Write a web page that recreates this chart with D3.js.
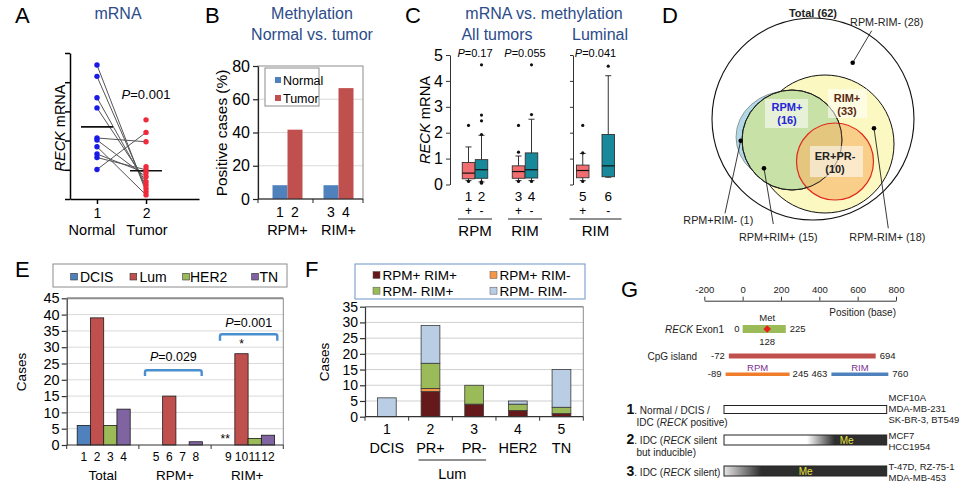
<!DOCTYPE html>
<html><head><meta charset="utf-8">
<script src="https://cdn.jsdelivr.net/npm/d3@7/dist/d3.min.js"></script>
<style>
body{margin:0;background:#fff;}
svg{display:block;font-family:"Liberation Sans",Arial,sans-serif;}
</style></head><body>
<svg id="c" width="968" height="490"></svg>
<script>
// ---------------- DATA ----------------
// A
const aTicks = [0,1,2,3,4,5];
const aXTicks = [1,2];
const aXLabels = ["Normal","Tumor"];
const aNormal = [4.59,4.20,3.47,3.12,2.09,2.02,1.79,1.54,1.42,1.01];
const aTumor  = [0.25,0.36,0.48,0.59,1.96,0.76,0.14,0.89,1.00,2.28,2.71,1.11]; // first 10 paired with aNormal
const aMeans  = [2.47,0.97];
const aP = "=0.001";
// B
const bGroups = ["RPM+","RIM+"];
const bSeries = ["Normal","Tumor"];
const bNormal = [8.3,8.3];
const bTumor  = [41.7,66.7];
const bTicks  = [0,20,40,60,80];
// C
const cIds   = ["1","2","3","4","5","6"];
const cSigns = ["+","-","+","-","+","-"];
const cGroupLabels = ["RPM","RIM","RIM"];
const cP     = ["=0.17","=0.055","=0.041"];
const cQ1    = [0.22,0.24,0.24,0.25,0.26,0.30];
const cMed   = [0.44,0.57,0.50,0.57,0.54,0.72];
const cQ3    = [0.85,0.96,0.72,1.22,0.75,1.93];
const cLow   = [0.15,0.10,0.15,0.15,0.15,0.28];
const cHigh  = [1.45,1.90,1.10,2.52,1.20,4.20];
const cOut   = [[2.28,0.12],[4.62,2.68,2.46,1.93,0.10,0.05],[2.28,1.25,0.12],[4.62,2.70,0.12],[2.28,1.22,0.12],[4.57]];
const cTicks = [0,1,2,3,4,5];
// D
const dSets   = ["Total (62)","RPM+","(16)","RIM+","(33)","ER+PR-","(10)"];
const dRegions = ["RPM-RIM- (28)","RPM+RIM- (1)","RPM+RIM+ (15)","RPM-RIM+ (18)"];
// E
const eGroups = ["Total","RPM+","RIM+"];
const eSeries = ["DCIS","Lum","HER2","TN"];
const eDCIS = [6,0,0];
const eLum  = [39,15,28];
const eHER2 = [6,0,2];
const eTN   = [11,1,3];
const eTicks = [0,5,10,15,20,25,30,35,40,45];
// F
const fCats   = ["DCIS","PR+","PR-","HER2","TN"];
const fSeries = ["RPM+ RIM+","RPM+ RIM-","RPM- RIM+","RPM- RIM-"];
const fPP = [0,8,4,2,1];
const fPM = [0,1,0,0,0];
const fMP = [0,8,6,2,2];
const fMM = [6,12,0,1,12];
const fTicks = [0,5,10,15,20,25,30,35];
// G
const gTicks = [-200,0,200,400,600,800];
const gExon = [0,225];
const gMet = 128;
const gCpG = [-72,694];
const gRPM = [-89,245];
const gRIM = [463,760];
const gRows = [["Normal / DCIS /","IDC (","RECK"," positive)"],["IDC (","RECK"," silent","but inducible)"],["IDC (","RECK"," silent)"]];
const gCells = [["MCF10A","MDA-MB-231","SK-BR-3, BT549"],["MCF7","HCC1954"],["T-47D, RZ-75-1","MDA-MB-453"]];

// ---------------- DRAW ----------------
const svg = d3.select("#c");
const TITLE = "#2c4b8a";
const F = '"Liberation Sans", Arial, sans-serif';
const defs = svg.append("defs");
const fmtInt = d3.format("d");

function txt(g,x,y,s,size,anchor,opts){
  const t = g.append("text").attr("x",x).attr("y",y).attr("font-size",size)
    .attr("text-anchor",anchor||"start").text(s);
  if(opts){ for(const k in opts) t.attr(k,opts[k]); }
  return t;
}
function styleAxis(sel,size,col,sw){
  sel.attr("font-family",F).attr("font-size",size);
  sel.selectAll("path,line").attr("stroke",col||"#000").attr("stroke-width",sw||1);
  sel.selectAll("text").attr("fill","#000");
}
// panel letters
[["A",15,23],["B",205,23],["C",405,23],["D",662,23],["E",15,277],["F",305,277],["G",621,297]]
  .forEach(d=>txt(svg,d[1],d[2],d[0],22));

// ===== A =====
{
  const g = svg.append("g");
  txt(g,118,19,"mRNA",16,"middle",{fill:TITLE});
  const x = d3.scaleLinear().domain([0.45,3.08]).range([70,199]);
  const y = d3.scaleLinear().domain([0,5]).range([199,53]);
  const ya = g.append("g").attr("transform","translate(70,0)")
    .call(d3.axisLeft(y).tickValues(aTicks).tickSize(5).tickSizeOuter(0).tickFormat(""));
  styleAxis(ya,14,"#000",1.5);
  const xa = g.append("g").attr("transform","translate(0,199)")
    .call(d3.axisBottom(x).tickValues(aXTicks).tickSize(5).tickSizeOuter(0).tickPadding(4).tickFormat(fmtInt));
  styleAxis(xa,14,"#000",1.5);
  txt(g,x(1)-5,235,aXLabels[0],14.5,"middle");
  txt(g,x(2)+1,235,aXLabels[1],14.5,"middle");
  const yl = g.append("text").attr("transform","translate(65,128) rotate(-90)").attr("font-size",14.5).attr("text-anchor","middle");
  yl.append("tspan").attr("font-style","italic").text("RECK");
  yl.append("tspan").text(" mRNA");
  aNormal.forEach((v,i)=>{
    g.append("line").attr("x1",x(1)).attr("y1",y(v)).attr("x2",x(2)).attr("y2",y(aTumor[i]))
      .attr("stroke","#555").attr("stroke-width",1);
  });
  [1,2].forEach((k,i)=>{
    g.append("line").attr("x1",x(k)-16).attr("x2",x(k)+16).attr("y1",y(aMeans[i])).attr("y2",y(aMeans[i]))
      .attr("stroke","#111").attr("stroke-width",1.6);
  });
  g.selectAll("circle.n").data(aNormal).enter().append("circle").attr("cx",x(1)).attr("cy",d=>y(d)).attr("r",2.7).attr("fill","#1a1ae6");
  g.selectAll("circle.t").data(aTumor).enter().append("circle").attr("cx",x(2)).attr("cy",d=>y(d)).attr("r",2.7).attr("fill","#ee2b3b");
  const p = g.append("text").attr("x",146).attr("y",99).attr("font-size",13).attr("text-anchor","middle");
  p.append("tspan").attr("font-style","italic").text("P"); p.append("tspan").text(aP);
}

// ===== B =====
{
  const g = svg.append("g");
  txt(g,312,19,"Methylation",16,"middle",{fill:TITLE});
  txt(g,312,40,"Normal vs. tumor",16,"middle",{fill:TITLE});
  const L=258,R=363,T=66,Bt=199;
  const y = d3.scaleLinear().domain([0,80]).range([Bt,T]);
  const x = d3.scaleBand().domain(bGroups).range([262,364]);
  bTicks.filter(t=>t>0&&t<80).forEach(t=>g.append("line").attr("x1",L).attr("x2",R).attr("y1",y(t)).attr("y2",y(t)).attr("stroke","#d9d9d9"));
  g.append("rect").attr("x",L).attr("y",T).attr("width",R-L).attr("height",Bt-T).attr("fill","none").attr("stroke","#8c8c8c");
  const bw = 15;
  bGroups.forEach((k,i)=>{
    const c = x(k)+x.bandwidth()/2;
    g.append("rect").attr("x",c-bw).attr("y",y(bNormal[i])).attr("width",bw).attr("height",Bt-y(bNormal[i])).attr("fill","#4f81bd");
    g.append("rect").attr("x",c).attr("y",y(bTumor[i])).attr("width",bw).attr("height",Bt-y(bTumor[i])).attr("fill","#c0504d");
    txt(g,c-7.5,217,String(i*2+1),14,"middle");
    txt(g,c+7.5,217,String(i*2+2),14,"middle");
    txt(g,c,235,k,14.5,"middle");
  });
  const ya = g.append("g").attr("transform",`translate(${L},0)`)
    .call(d3.axisLeft(y).tickValues(bTicks).tickSize(5).tickSizeOuter(0).tickPadding(3).tickFormat(fmtInt));
  styleAxis(ya,16,"#222",1.2);
  g.append("line").attr("x1",L).attr("x2",R).attr("y1",Bt).attr("y2",Bt).attr("stroke","#222").attr("stroke-width",1.2);
  [L, x(bGroups[1]), R].forEach(px=>g.append("line").attr("x1",px).attr("x2",px).attr("y1",Bt).attr("y2",Bt+4).attr("stroke","#222"));
  g.append("text").attr("transform",`translate(227,133) rotate(-90)`).attr("font-size",15.4).attr("text-anchor","middle").text("Positive cases (%)");
  g.append("rect").attr("x",265).attr("y",68).attr("width",54).attr("height",38).attr("fill","#fff").attr("stroke","#8c8c8c");
  [["#4f81bd",80],["#c0504d",98]].forEach((d,i)=>{
    g.append("rect").attr("x",275).attr("y",d[1]-3).attr("width",6).attr("height",6).attr("fill",d[0]);
    txt(g,283,d[1]+4.5,bSeries[i],12.5);
  });
}

// ===== C =====
{
  const g = svg.append("g");
  txt(g,544,19,"mRNA vs. methylation",16,"middle",{fill:TITLE});
  txt(g,497,40,"All tumors",16,"middle",{fill:TITLE});
  txt(g,600,40,"Luminal",16,"middle",{fill:TITLE});
  const y = d3.scaleLinear().domain([0,5]).range([184.5,55]);
  const xAll = d3.scaleBand().domain(["RPM","RIM"]).range([450,550]);
  const xLum = d3.scaleBand().domain(["5","6"]).range([570,621]);
  const cx = i => i<4 ? xAll(i<2?"RPM":"RIM")+xAll.bandwidth()/2+(i%2? 6.5:-6.5) : xLum(cIds[i])+xLum.bandwidth()/2;
  const ya = g.append("g").attr("transform","translate(450,0)")
    .call(d3.axisLeft(y).tickValues(cTicks).tickSize(4).tickSizeOuter(0).tickPadding(3).tickFormat(fmtInt));
  styleAxis(ya,16,"#333",1);
  const ya2 = g.append("g").attr("transform","translate(573,0)")
    .call(d3.axisLeft(y).tickValues(cTicks).tickSize(3).tickSizeOuter(0).tickFormat(""));
  styleAxis(ya2,16,"#333",1);
  const yl = g.append("text").attr("transform","translate(430,120) rotate(-90)").attr("font-size",14.7).attr("text-anchor","middle");
  yl.append("tspan").attr("font-style","italic").text("RECK");
  yl.append("tspan").text(" mRNA");
  const bw = 12.5;
  cIds.forEach((id,i)=>{
    const c = cx(i);
    const fill = i%2===0 ? "#f26d6f" : "#17899b";
    g.append("line").attr("x1",c).attr("x2",c).attr("y1",y(cLow[i])).attr("y2",y(cHigh[i])).attr("stroke","#333");
    [cLow[i],cHigh[i]].forEach(v=>g.append("line").attr("x1",c-3).attr("x2",c+3).attr("y1",y(v)).attr("y2",y(v)).attr("stroke","#333"));
    g.append("rect").attr("x",c-bw/2).attr("y",y(cQ3[i])).attr("width",bw).attr("height",y(cQ1[i])-y(cQ3[i]))
      .attr("fill",fill).attr("stroke","#333").attr("stroke-width",0.9);
    g.append("line").attr("x1",c-bw/2).attr("x2",c+bw/2).attr("y1",y(cMed[i])).attr("y2",y(cMed[i])).attr("stroke","#111").attr("stroke-width",1.2);
    cOut[i].forEach(v=>g.append("circle").attr("cx",c).attr("cy",y(v)).attr("r",1.6).attr("fill","#111"));
    txt(g,c,200.5,id,13.5,"middle");
    txt(g,c,215,cSigns[i],12,"middle");
  });
  const groups = [[cx(0),cx(1)],[cx(2),cx(3)],[cx(4),cx(5)]];
  groups.forEach((gg,k)=>{
    const mid = (gg[0]+gg[1])/2;
    const p = g.append("text").attr("x",mid).attr("y",56.5).attr("font-size",11).attr("text-anchor","middle");
    p.append("tspan").attr("font-style","italic").text("P"); p.append("tspan").text(cP[k]);
    const half = k<2 ? 17 : 26;
    g.append("line").attr("x1",mid-half).attr("x2",mid+half).attr("y1",219).attr("y2",219).attr("stroke","#222");
    txt(g,mid,235.5,cGroupLabels[k],15,"middle");
  });
}

// ===== D =====
{
  const g = svg.append("g").attr("font-size",10.8);
  g.append("circle").attr("cx",813).attr("cy",119).attr("r",101).attr("fill","#fff").attr("stroke","#111").attr("stroke-width",1.1);
  g.append("ellipse").attr("cx",788).attr("cy",137).attr("rx",52).attr("ry",46).attr("fill","#b3d8e5").attr("stroke","#666").attr("stroke-width",0.6);
  g.append("circle").attr("cx",825).attr("cy",144).attr("r",69).attr("fill","#fcf8c1").attr("stroke","#111").attr("stroke-width",1);
  g.append("circle").attr("cx",792).attr("cy",140).attr("r",50).attr("fill","#c8e1a6").attr("stroke","#111").attr("stroke-width",1);
  g.append("circle").attr("cx",835).attr("cy",161.5).attr("r",38.5).attr("fill","#f7b468").attr("fill-opacity",0.62).attr("stroke","#e0281b").attr("stroke-width",1.2);
  g.append("circle").attr("cx",792).attr("cy",140).attr("r",50).attr("fill","none").attr("stroke","#222").attr("stroke-width",0.9);
  [[765,99,43,29],[828,89,39,29],[810,146,53,31]].forEach(b=>g.append("rect").attr("x",b[0]).attr("y",b[1]).attr("width",b[2]).attr("height",b[3]).attr("fill","#fff").attr("fill-opacity",0.55));
  txt(g,813,17,dSets[0],11,"middle",{"font-weight":"bold",fill:"#222"});
  txt(g,787,111,dSets[1],11,"middle",{"font-weight":"bold",fill:"#2424d8"});
  txt(g,787,123.5,dSets[2],11,"middle",{"font-weight":"bold",fill:"#2424d8"});
  txt(g,847,101.5,dSets[3],11,"middle",{"font-weight":"bold",fill:"#5a2a14"});
  txt(g,847,115,dSets[4],11,"middle",{"font-weight":"bold",fill:"#5a2a14"});
  txt(g,835,160,dSets[5],11,"middle",{"font-weight":"bold",fill:"#222"});
  txt(g,835,172.5,dSets[6],11,"middle",{"font-weight":"bold",fill:"#222"});
  const calls = [
    [852.7,62.7,871.7,30.7,886.7,26],
    [740.7,140.7,725,213.3,718.3,224],
    [764,168.3,773.3,224,778.3,241],
    [874,128.3,888.3,228.3,887.3,241]
  ];
  calls.forEach((c,i)=>{
    g.append("line").attr("x1",c[0]).attr("y1",c[1]).attr("x2",c[2]).attr("y2",c[3]).attr("stroke","#222").attr("stroke-width",0.9);
    g.append("circle").attr("cx",c[0]).attr("cy",c[1]).attr("r",2.3).attr("fill","#000");
    txt(g,c[4],c[5],dRegions[i],10.8,"middle",{fill:"#222"});
  });
}

// ===== E =====
{
  const g = svg.append("g");
  const L=66.7,R=283.3,T=298.3,Bt=445;
  const y = d3.scaleLinear().domain([0,45]).range([Bt,T]);
  const x = d3.scaleBand().domain(eGroups).range([L,R]);
  const xi = d3.scaleBand().domain(eSeries).range([10.5,63.5]);
  const cols = ["#4f81bd","#c0504d","#9bbb59","#8064a2"];
  const vals = [eDCIS,eLum,eHER2,eTN];
  eTicks.filter(t=>t>0&&t<45).forEach(t=>g.append("line").attr("x1",L).attr("x2",R).attr("y1",y(t)).attr("y2",y(t)).attr("stroke","#d9d9d9"));
  g.append("line").attr("x1",R).attr("x2",R).attr("y1",T).attr("y2",Bt).attr("stroke","#8c8c8c");
  g.append("line").attr("x1",L).attr("x2",R).attr("y1",T).attr("y2",T).attr("stroke","#8c8c8c").attr("stroke-width",2);
  eGroups.forEach((grp,gi)=>{
    eSeries.forEach((s,si)=>{
      const v = vals[si][gi];
      const bx = x(grp)+xi(s);
      if(v>0) g.append("rect").attr("x",bx).attr("y",y(v)).attr("width",xi.bandwidth()).attr("height",Bt-y(v))
        .attr("fill",cols[si]).attr("stroke","#1a1a1a").attr("stroke-width",0.8);
      txt(g,bx+xi.bandwidth()/2,460.5,String(gi*4+si+1),12,"middle");
    });
    txt(g,x(grp)+x.bandwidth()/2,479.5,grp,13.5,"middle");
  });
  const ya = g.append("g").attr("transform",`translate(${L},0)`)
    .call(d3.axisLeft(y).tickValues(eTicks).tickSize(5).tickSizeOuter(0).tickPadding(2).tickFormat(fmtInt));
  styleAxis(ya,14.5,"#333",1.2);
  g.append("line").attr("x1",L).attr("x2",R).attr("y1",Bt).attr("y2",Bt).attr("stroke","#333").attr("stroke-width",1.2);
  [L,x(eGroups[1]),x(eGroups[2]),R].forEach(px=>g.append("line").attr("x1",px).attr("x2",px).attr("y1",Bt).attr("y2",Bt+4).attr("stroke","#333"));
  g.append("text").attr("transform","translate(26,372) rotate(-90)").attr("font-size",13.5).attr("text-anchor","middle").text("Cases");
  g.append("rect").attr("x",53).attr("y",264).attr("width",234).attr("height",23).attr("fill","#fff").attr("stroke","#8c8c8c");
  const lx = [[70.7,80],[130,139.5],[182.7,190],[251.7,259.5]];
  eSeries.forEach((s,i)=>{
    g.append("rect").attr("x",lx[i][0]).attr("y",273.3).attr("width",6.7).attr("height",6.7).attr("fill",cols[i]).attr("stroke","#333").attr("stroke-width",0.6);
    txt(g,lx[i][1],281.5,s,14);
  });
  const br = (x1,x2,yt,yb,label,ty)=>{
    g.append("path").attr("d",`M${x1},${yb} L${x1},${yt+2} Q${x1},${yt} ${x1+2},${yt} L${x2-2},${yt} Q${x2},${yt} ${x2},${yt+2} L${x2},${yb}`)
      .attr("fill","none").attr("stroke","#4a8fd0").attr("stroke-width",2.4);
    const p = g.append("text").attr("x",(x1+x2)/2).attr("y",ty).attr("font-size",12.5).attr("text-anchor","middle");
    p.append("tspan").attr("font-style","italic").text("P"); p.append("tspan").text(label);
  };
  br(145,201.7,370.3,376,"=0.029",361);
  br(220,277.3,334.3,340.7,"=0.001",327);
  const cLum = x(eGroups[2])+xi("Lum")+xi.bandwidth()/2;
  txt(g,cLum,348,"*",12,"middle");
  const cD = x(eGroups[2])+xi("DCIS")+xi.bandwidth()/2;
  txt(g,cD-3,443,"**",12,"middle");
}

// ===== F =====
{
  const g = svg.append("g");
  const L=365,R=583.3,T=306.7,Bt=416.7;
  const y = d3.scaleLinear().domain([0,35]).range([Bt,T]);
  const x = d3.scaleBand().domain(fCats).range([L,R]).paddingInner(0.57).paddingOuter(0.285);
  const cols = ["#66191b","#f79646","#9bbb59","#b9cde5"];
  const vals = [fPP,fPM,fMP,fMM];
  fTicks.filter(t=>t>0&&t<35).forEach(t=>g.append("line").attr("x1",L).attr("x2",R).attr("y1",y(t)).attr("y2",y(t)).attr("stroke","#d0d0d0"));
  g.append("line").attr("x1",R).attr("x2",R).attr("y1",T).attr("y2",Bt).attr("stroke","#8c8c8c");
  g.append("line").attr("x1",L).attr("x2",R).attr("y1",T).attr("y2",T).attr("stroke","#8c8c8c").attr("stroke-width",1.5);
  const stack = d3.stack().keys([0,1,2,3]).value((d,k)=>vals[k][d])(fCats.map((c,i)=>i));
  stack.forEach((layer,k)=>{
    layer.forEach((seg,i)=>{
      if(seg[1]-seg[0]<=0) return;
      g.append("rect").attr("x",x(fCats[i])).attr("y",y(seg[1])).attr("width",x.bandwidth()).attr("height",y(seg[0])-y(seg[1]))
        .attr("fill",cols[k]).attr("stroke","#3a3a3a").attr("stroke-width",0.8);
    });
  });
  const ya = g.append("g").attr("transform",`translate(${L},0)`)
    .call(d3.axisLeft(y).tickValues(fTicks).tickSize(5).tickSizeOuter(0).tickPadding(2).tickFormat(fmtInt));
  styleAxis(ya,14,"#333",1.2);
  g.append("line").attr("x1",L).attr("x2",R).attr("y1",Bt).attr("y2",Bt).attr("stroke","#333").attr("stroke-width",1.2);
  fCats.forEach((c,i)=>{
    const cx = x(c)+x.bandwidth()/2;
    txt(g,cx,433.5,String(i+1),14,"middle");
    txt(g,cx,453,c,14.5,"middle");
  });
  d3.range(fCats.length+1).forEach(i=>{
    const px = L + i*(R-L)/fCats.length;
    g.append("line").attr("x1",px).attr("x2",px).attr("y1",Bt).attr("y2",Bt+4).attr("stroke","#333");
  });
  const c1 = x(fCats[1])+x.bandwidth()/2, c2 = x(fCats[2])+x.bandwidth()/2;
  g.append("line").attr("x1",c1-12).attr("x2",c2+12).attr("y1",460).attr("y2",460).attr("stroke","#222");
  txt(g,(c1+c2)/2,478.5,"Lum",14.5,"middle");
  g.append("text").attr("transform","translate(329,362) rotate(-90)").attr("font-size",13.5).attr("text-anchor","middle").text("Cases");
  g.append("rect").attr("x",355).attr("y",264).attr("width",230).attr("height",35).attr("fill","#fff").attr("stroke","#6d93c6");
  const lp = [[373,275],[490,275],[373,290.7],[490,290.7]];
  fSeries.forEach((s,i)=>{
    g.append("rect").attr("x",lp[i][0]).attr("y",lp[i][1]-3.5).attr("width",7).attr("height",7).attr("fill",cols[i]).attr("stroke","#555").attr("stroke-width",0.5);
    txt(g,lp[i][0]+9.5,lp[i][1]+5,s,13.5);
  });
}

// ===== G =====
{
  const g = svg.append("g");
  const x = d3.scaleLinear().domain([-200,800]).range([704.3,896]);
  const ax = g.append("g").attr("transform","translate(0,300.7)")
    .call(d3.axisTop(x).tickValues(gTicks).tickSize(4).tickSizeOuter(0).tickPadding(4).tickFormat(d=>String(d)));
  styleAxis(ax,9.5,"#333",1);
  ax.selectAll("text").attr("fill","#222");
  txt(g,896,316,"Position (base)",10,"end",{fill:"#222"});
  txt(g,x(gMet),320.5,"Met",9.5,"middle",{fill:"#222"});
  const ex = g.append("text").attr("x",724).attr("y",332.5).attr("font-size",10).attr("text-anchor","end").attr("fill","#222");
  ex.append("tspan").attr("font-style","italic").text("RECK"); ex.append("tspan").text(" Exon1");
  g.append("rect").attr("x",x(gExon[0])).attr("y",325).attr("width",x(gExon[1])-x(gExon[0])).attr("height",8).attr("fill","#9bbb59");
  const dm = x(gMet);
  g.append("path").attr("d",`M${dm},${325.3} L${dm+3.8},${329} L${dm},${332.7} L${dm-3.8},${329} Z`).attr("fill","#e8201c");
  txt(g,x(gExon[0])-3,332,String(gExon[0]),9.5,"end",{fill:"#222"});
  txt(g,x(gExon[1])+4,332,String(gExon[1]),9.5,"start",{fill:"#222"});
  txt(g,x(gMet),344.5,String(gMet),9.5,"middle",{fill:"#222"});
  txt(g,697,359.5,"CpG island",10,"end",{fill:"#222"});
  g.append("rect").attr("x",x(gCpG[0])).attr("y",353.5).attr("width",x(gCpG[1])-x(gCpG[0])).attr("height",5).attr("fill","#c0504d");
  txt(g,x(gCpG[0])-4,359,String(gCpG[0]),9.5,"end",{fill:"#222"});
  txt(g,x(gCpG[1])+4,359,String(gCpG[1]),9.5,"start",{fill:"#222"});
  g.append("rect").attr("x",x(gRPM[0])).attr("y",372.5).attr("width",x(gRPM[1])-x(gRPM[0])).attr("height",3.5).attr("fill","#f07d2c");
  g.append("rect").attr("x",x(gRIM[0])).attr("y",372.5).attr("width",x(gRIM[1])-x(gRIM[0])).attr("height",3.5).attr("fill","#4f81bd");
  txt(g,x(gRPM[0])-4,377,String(gRPM[0]),9.5,"end",{fill:"#222"});
  txt(g,x(gRPM[1])+3,377,String(gRPM[1]),9.5,"start",{fill:"#222"});
  txt(g,x(gRIM[0])-4,377,String(gRIM[0]),9.5,"end",{fill:"#222"});
  txt(g,x(gRIM[1])+4,377,String(gRIM[1]),9.5,"start",{fill:"#222"});
  txt(g,(x(gRPM[0])+x(gRPM[1]))/2,370.5,"RPM",9.5,"middle",{fill:"#7b2f8e"});
  txt(g,(x(gRIM[0])+x(gRIM[1]))/2,370.5,"RIM",9.5,"middle",{fill:"#7b2f8e"});
  const g2 = defs.append("linearGradient").attr("id","gr2");
  [[0,"#fff"],[0.51,"#fff"],[0.68,"#2e2e2e"],[1,"#2e2e2e"]].forEach(s=>g2.append("stop").attr("offset",s[0]).attr("stop-color",s[1]));
  const g3 = defs.append("linearGradient").attr("id","gr3");
  [[0,"#e6e6e6"],[0.23,"#2e2e2e"],[1,"#2e2e2e"]].forEach(s=>g3.append("stop").attr("offset",s[0]).attr("stop-color",s[1]));
  const bx0 = 724, bx1 = 886.7;
  const rows = [[405.5,8,"#fff",null],[435,10,"url(#gr2)",846.7],[466,10,"url(#gr3)",805.7]];
  rows.forEach((r,i)=>{
    g.append("rect").attr("x",bx0).attr("y",r[0]).attr("width",bx1-bx0).attr("height",r[1]).attr("fill",r[2]).attr("stroke","#222").attr("stroke-width",1);
    if(r[3]) txt(g,r[3],r[0]+r[1]/2+3.5,"Me",10,"middle",{fill:"#e6e23a"});
  });
  const rl = (yy,num,parts)=>{
    const t = g.append("text").attr("x",626.5).attr("y",yy).attr("font-size",10).attr("fill","#222");
    t.append("tspan").attr("font-weight","bold").attr("font-size",14).attr("fill","#111").text(num);
    parts.forEach(p=>{ const s=t.append("tspan").text(p[0]); if(p[1]) s.attr("font-style","italic"); });
  };
  rl(414,"1",[[". "+gRows[0][0]]]);
  const r1b = g.append("text").attr("x",636.5).attr("y",425.5).attr("font-size",10).attr("fill","#222");
  r1b.append("tspan").text(gRows[0][1]); r1b.append("tspan").attr("font-style","italic").text(gRows[0][2]); r1b.append("tspan").text(gRows[0][3]);
  rl(444,"2",[[". "+gRows[1][0]],[gRows[1][1],true],[gRows[1][2]]]);
  txt(g,636.5,455.5,gRows[1][3],10,"start",{fill:"#222"});
  rl(475.5,"3",[[". "+gRows[2][0]],[gRows[2][1],true],[gRows[2][2]]]);
  const cellY = [[401,412,423],[438.5,449.5],[470,481]];
  gCells.forEach((rows,i)=>rows.forEach((s,j)=>txt(g,888.5,cellY[i][j],s,9.5,"start",{fill:"#222"})));
}
</script></body></html>
